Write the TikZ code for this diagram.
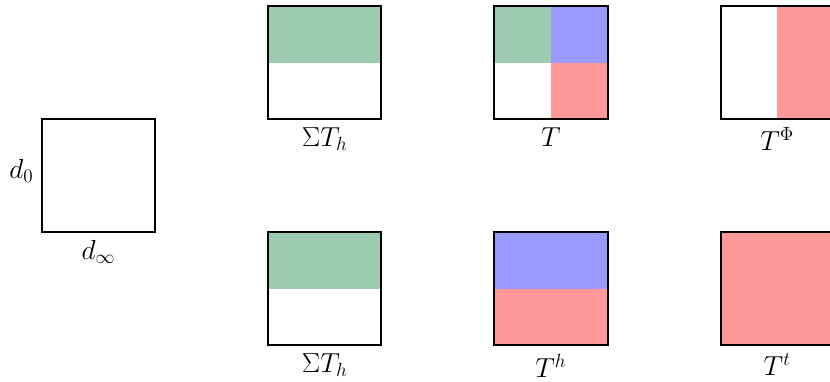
\documentclass[tikz,border=0pt]{standalone}
\usepackage{amsmath,amssymb}
\usetikzlibrary{positioning}
\definecolor{grn}{HTML}{9DCDB0}
\definecolor{blu}{HTML}{9999FF}
\definecolor{rd}{HTML}{FF9999}

\begin{document}
\begin{tikzpicture}[font=\huge,node distance=1mm,
  cell/.style={line width=1.5pt,minimum size=3cm,inner sep=0pt,outer sep=0pt,postaction={draw}},
  pp/.style={path picture={#1}}]
\useasboundingbox (-1.11,-3.95) rectangle (20.9,6.16);
\def\bb{path picture bounding box}
% the grid of heat tables
\node[cell] (d) at (1.5,1.5) {};
\node[cell,pp={\fill[grn] (\bb.north west) rectangle (\bb.east);}] (s1) at (7.5,4.5) {};
\node[cell,pp={\fill[grn] (\bb.north west) rectangle (\bb.center);
  \fill[blu] (\bb.north) rectangle (\bb.east);
  \fill[rd] (\bb.center) rectangle (\bb.south east);}] (t) at (13.5,4.5) {};
\node[cell,pp={\fill[rd] (\bb.north) rectangle (\bb.south east);}] (tphi) at (19.5,4.5) {};
\node[cell,pp={\fill[grn] (\bb.north west) rectangle (\bb.east);}] (s2) at (7.5,-1.5) {};
\node[cell,pp={\fill[blu] (\bb.north west) rectangle (\bb.east);
  \fill[rd] (\bb.west) rectangle (\bb.south east);}] (th) at (13.5,-1.5) {};
\node[cell,fill=rd] (tt) at (19.5,-1.5) {};
% labels
\node[left=of d,yshift=1.3mm] {$d_0$};
\node[below=of d] {$d_\infty$};
\node[below=of s1] {$\Sigma T_h$};
\node[below=of t] {$T$};
\node[below=of tphi] {$T^\Phi$};
\node[below=of s2] {$\Sigma T_h$};
\node[below=of th] {$T^h$};
\node[below=of tt] {$T^t$};
\end{tikzpicture}
\end{document}
